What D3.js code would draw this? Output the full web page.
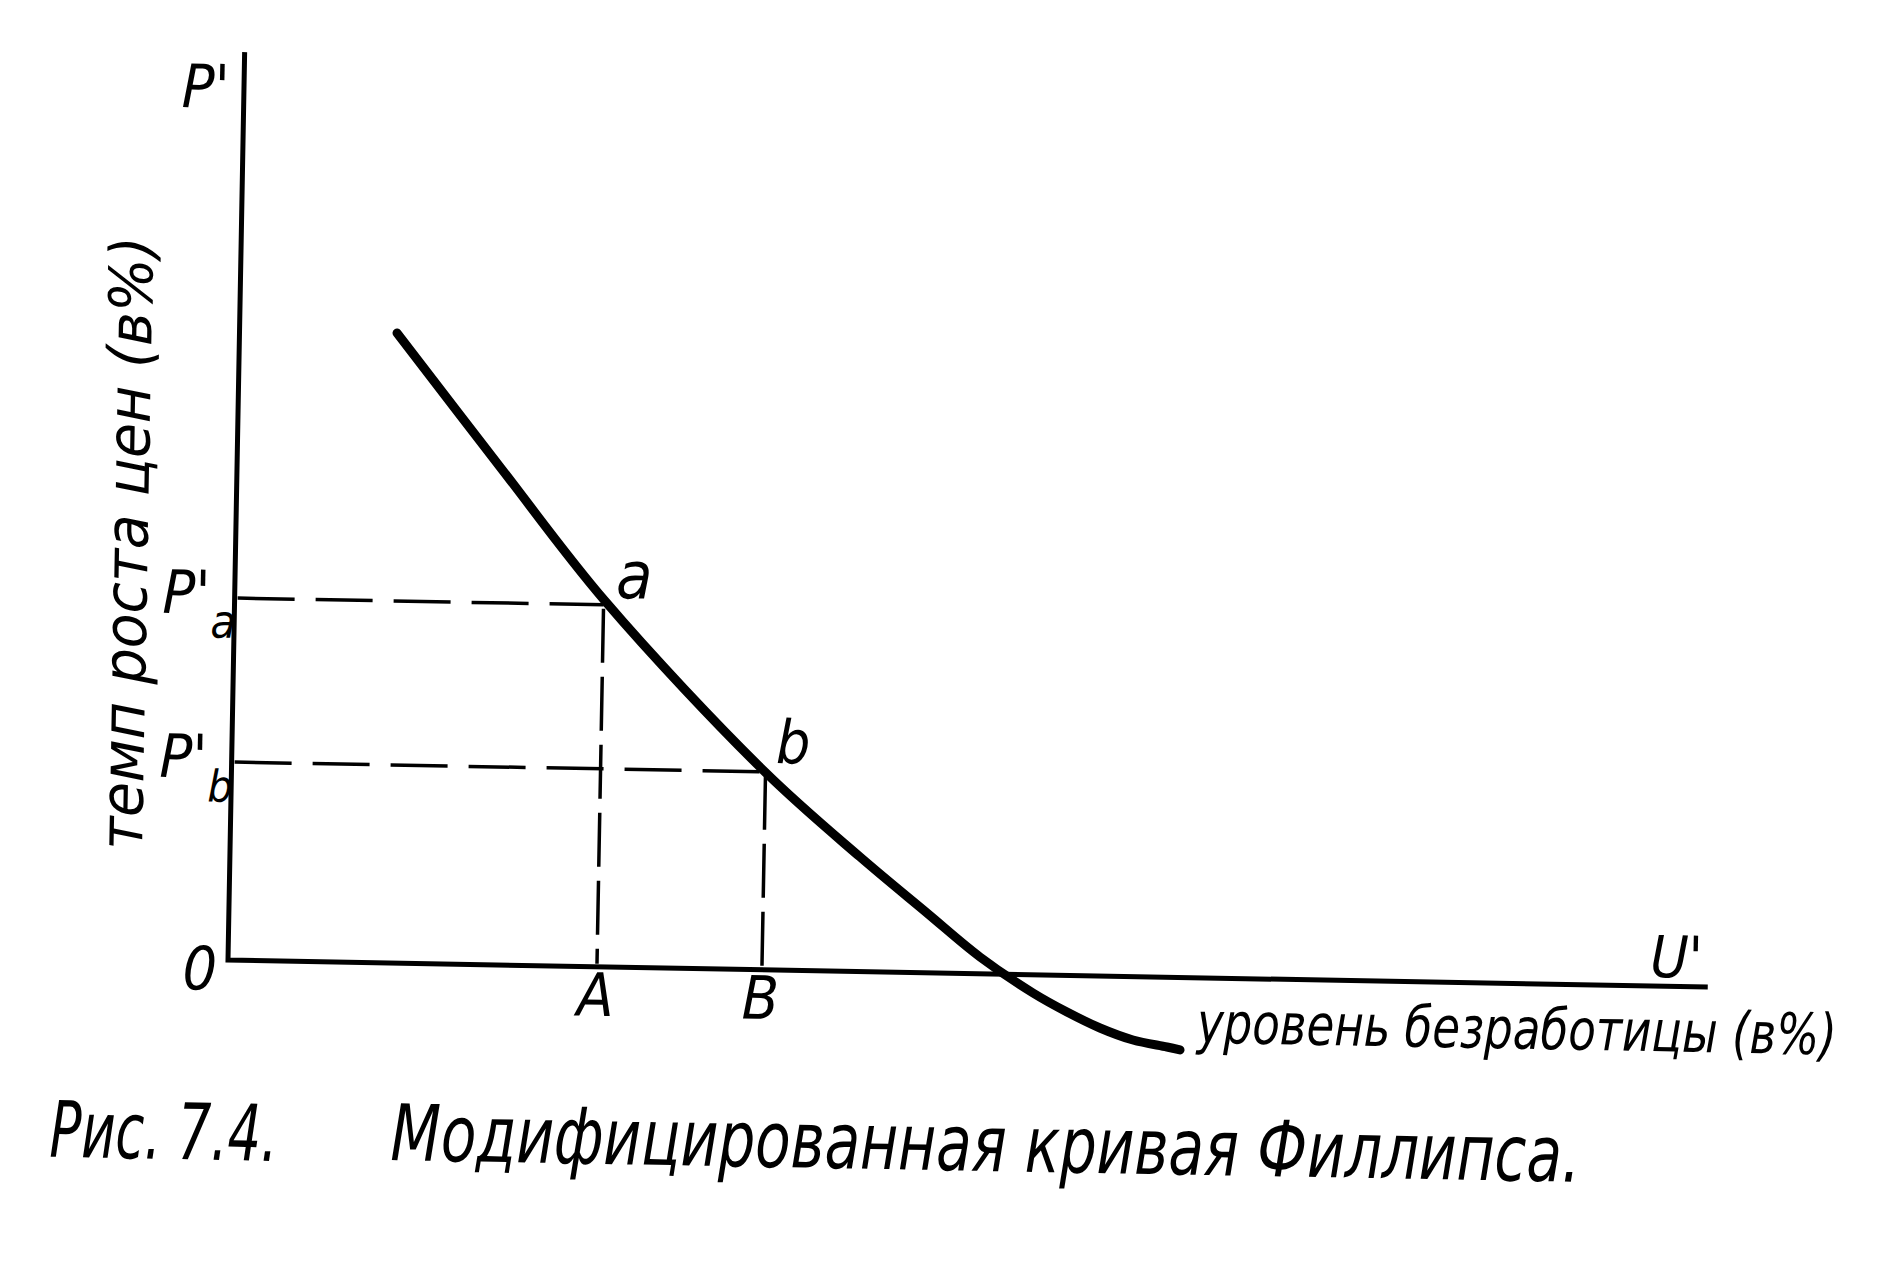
<!DOCTYPE html>
<html><head><meta charset="utf-8">
<script src="https://cdn.jsdelivr.net/npm/d3@7"></script>
<style>
body{margin:0;background:#fff;}
text{font-family:"Liberation Sans Narrow","DejaVu Sans Condensed",sans-serif;font-style:italic;fill:#000;}
</style>
</head><body>
<svg id="chart" width="1896" height="1264"></svg>
<script>
// ---- data (units: % unemployment, % price growth) ----
const curveU = [1.575, 2.63, 3.704, 5.335, 6.300, 6.980, 7.518, 8.055, 8.398, 8.731, 9.063, 9.404, 9.535];
const curveP = [6.300, 4.98, 3.658, 1.978, 1.146, 0.598, 0.168, -0.182, -0.366, -0.520, -0.634, -0.698, -0.725];
const pointNames = ["a", "b"];
const pointU = [3.69, 5.34];
const pointP = [3.62, 1.98];
const xTickNames = ["A", "B"];
const yTickSubs = ["a", "b"];
const axisMaxU = 14.8;
const axisMaxP = 9.08;
const originLabel = "0";
const yAxisName = "P'";
const xAxisName = "U'";
const xAxisTitle = "уровень безработицы (в%)";
const yAxisTitle = "темп роста цен (в%)";
const figNumber = "Рис. 7.4.";
const figTitle = "Модифицированная кривая Филлипса.";

// ---- layout ----
const svg = d3.select("#chart");
const origin = [228, 960];
const tilt = 1.05;
const x = d3.scaleLinear().domain([0, axisMaxU]).range([0, 1480]);
const y = d3.scaleLinear().domain([0, axisMaxP]).range([0, -908]);

const g = svg.append("g").attr("transform", `translate(${origin[0]},${origin[1]}) rotate(${tilt})`);

// axes
g.append("path")
  .attr("d", d3.line()([[x(0), y(axisMaxP)], [x(0), y(0)], [x(axisMaxU), y(0)]]))
  .attr("fill", "none").attr("stroke", "#000").attr("stroke-width", 5)
  .attr("stroke-linejoin", "miter");

// dashed guide lines
pointU.forEach((u, i) => {
  const p = pointP[i];
  g.append("line")
    .attr("x1", x(0) + 3).attr("y1", y(p)).attr("x2", x(u)).attr("y2", y(p))
    .attr("stroke", "#000").attr("stroke-width", 3.5).attr("stroke-dasharray", "57 21");
  g.append("line")
    .attr("x1", x(u)).attr("y1", y(p) + 4).attr("x2", x(u)).attr("y2", y(0) - 3)
    .attr("stroke", "#000").attr("stroke-width", 3.5).attr("stroke-dasharray", "54 14");
});

// Phillips curve
const curveData = curveU.map((u, i) => [u, curveP[i]]);
g.append("path")
  .datum(curveData)
  .attr("d", d3.line().x(d => x(d[0])).y(d => y(d[1])).curve(d3.curveCatmullRom.alpha(0.5)))
  .attr("fill", "none").attr("stroke", "#000").attr("stroke-width", 9)
  .attr("stroke-linecap", "round").attr("stroke-linejoin", "round");

// text helper
function txt(s, px, py, size, anchor) {
  return g.append("text").attr("x", px).attr("y", py)
    .attr("font-size", size).attr("text-anchor", anchor || "start").text(s);
}
// text squeezed/stretched horizontally to a target width (keeps bbox honest)
function fitTxt(s, px, py, size, width, rot) {
  const t = g.append("text").attr("x", 0).attr("y", 0)
    .attr("font-size", size).attr("text-anchor", rot ? "middle" : "start").text(s);
  const w = t.node().getComputedTextLength() || width;
  const sx = width / w;
  t.attr("transform", `translate(${px},${py})${rot ? ` rotate(${rot})` : ""} scale(${sx},1)`);
  return t;
}

// point labels
pointNames.forEach((n, i) => {
  txt(n, x(pointU[i]) + (i === 0 ? 12 : 10), y(pointP[i]) - (i === 0 ? 7 : 9), i === 0 ? 66 : 60);
});
// x tick labels
xTickNames.forEach((n, i) => {
  txt(n, x(pointU[i]) - 1, y(0) + 49, 60, "middle");
});
// y tick labels P'_a, P'_b (one text element with subscript placed after the prime)
yTickSubs.forEach((s, i) => {
  const x0 = x(0) - 72;
  const t = txt("", x0, y(pointP[i]) + 16, 60);
  const main = t.append("tspan").text("P'");
  const w = main.node().getComputedTextLength();
  t.append("tspan").attr("x", x0 + w + 1).attr("dy", 24)
    .attr("font-size", s === "a" ? 46 : 44).text(s);
});
// origin
txt(originLabel, x(0) - 28, y(0) + 30, 60, "middle");
// axis names
txt(yAxisName, x(0) - 62, y(axisMaxP) + 56, 60);
txt(xAxisName, x(0) + x(axisMaxU) - 58, y(0) - 9, 58);
// axis titles
fitTxt(xAxisTitle, x(0) + 970, y(0) + 65, 57, 640, 0);
fitTxt(yAxisTitle, x(0) - 88, y(0) - 415, 60, 614, -90);
// caption
fitTxt(figNumber, x(0) - 175, y(0) + 200, 78, 228, 0);
fitTxt(figTitle, x(0) + 166, y(0) + 197, 78, 1190, 0);
</script>
</body></html>
